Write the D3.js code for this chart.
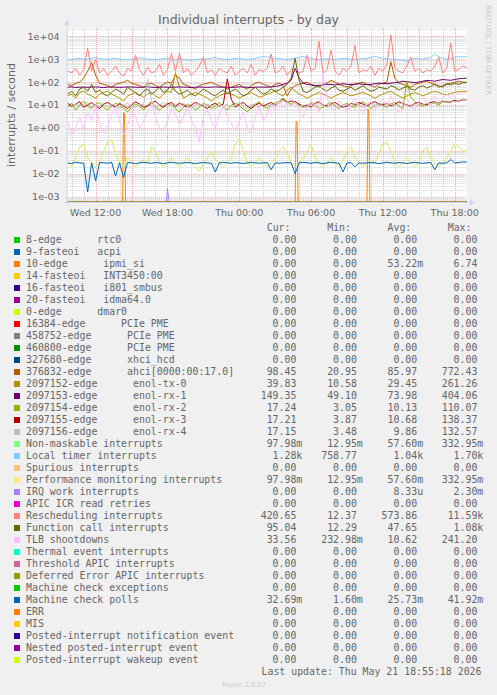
<!DOCTYPE html>
<html><head><meta charset="utf-8">
<script src="https://cdn.jsdelivr.net/npm/d3@7/dist/d3.min.js"></script>
<style>
html,body{margin:0;padding:0;background:#F0F0F0;}
svg{display:block;}
text{font-family:"DejaVu Sans",sans-serif;fill:#666666;}
.mono{font-family:"DejaVu Sans Mono",monospace;font-size:9.9px;white-space:pre;}
</style></head><body>
<svg id="c" width="497" height="695"></svg>
<script>
// ---------------- DATA ----------------
const title = "Individual interrupts - by day";
const yLabel = "interrupts / second";
const yTickValues = [1e-3, 1e-2, 1e-1, 1e0, 1e1, 1e2, 1e3, 1e4];
const yTickLabels = ["1e-03","1e-02","1e-01","1e+00","1e+01","1e+02","1e+03","1e+04"];
const xTickTimes = ["2026-05-20T12:00","2026-05-20T18:00","2026-05-21T00:00","2026-05-21T06:00","2026-05-21T12:00","2026-05-21T18:00"];
const xTickLabels = ["Wed 12:00","Wed 18:00","Thu 00:00","Thu 06:00","Thu 12:00","Thu 18:00"];
const viewStart = "2026-05-20T09:35", viewEnd = "2026-05-21T19:00";
const denseStart = "2026-05-20T09:40"; // dense series: one sample every 20 minutes
const denseStepMinutes = 20;

const legendLabels = [
 "8-edge      rtc0","9-fasteoi   acpi","10-edge      ipmi_si","14-fasteoi   INT3450:00",
 "16-fasteoi   i801_smbus","20-fasteoi   idma64.0","0-edge      dmar0","16384-edge      PCIe PME",
 "458752-edge      PCIe PME","460800-edge      PCIe PME","327680-edge      xhci_hcd",
 "376832-edge      ahci[0000:00:17.0]","2097152-edge      enol-tx-0","2097153-edge      enol-rx-1",
 "2097154-edge      enol-rx-2","2097155-edge      enol-rx-3","2097156-edge      enol-rx-4",
 "Non-maskable interrupts","Local timer interrupts","Spurious interrupts",
 "Performance monitoring interrupts","IRQ work interrupts","APIC ICR read retries",
 "Rescheduling interrupts","Function call interrupts","TLB shootdowns","Thermal event interrupts",
 "Threshold APIC interrupts","Deferred Error APIC interrupts","Machine check exceptions",
 "Machine check polls","ERR","MIS","Posted-interrupt notification event",
 "Nested posted-interrupt event","Posted-interrupt wakeup event"];
const legendColors = ["#00CC00","#0066B3","#FF8000","#FFCC00","#330099","#990099","#CCFF00","#FF0000",
 "#808080","#008F00","#00487D","#B35A00","#B38F00","#6B006B","#8FB300","#B30000","#BEBEBE",
 "#80FF80","#80C9FF","#FFC080","#FFE680","#AA80FF","#EE00CC","#FF8080","#666600","#FFBFFF",
 "#00FFCC","#CC6699","#999900","#00CC00","#0066B3","#FF8000","#FFCC00","#330099","#990099","#CCFF00"];
const statCur = ["0.00","0.00","0.00","0.00","0.00","0.00","0.00","0.00","0.00","0.00","0.00","98.45","39.83","149.35","17.24","17.21","17.15","97.98m","1.28k","0.00","97.98m","0.00","0.00","420.65","95.04","33.56","0.00","0.00","0.00","0.00","32.69m","0.00","0.00","0.00","0.00","0.00"];
const statMin = ["0.00","0.00","0.00","0.00","0.00","0.00","0.00","0.00","0.00","0.00","0.00","20.95","10.58","49.10","3.05","3.87","3.48","12.95m","758.77","0.00","12.95m","0.00","0.00","12.37","12.29","232.98m","0.00","0.00","0.00","0.00","1.60m","0.00","0.00","0.00","0.00","0.00"];
const statAvg = ["0.00","0.00","53.22m","0.00","0.00","0.00","0.00","0.00","0.00","0.00","0.00","85.97","29.45","73.98","10.13","10.68","9.86","57.60m","1.04k","0.00","57.60m","8.33u","0.00","573.86","47.65","10.62","0.00","0.00","0.00","0.00","25.73m","0.00","0.00","0.00","0.00","0.00"];
const statMax = ["0.00","0.00","6.74","0.00","0.00","0.00","0.00","0.00","0.00","0.00","0.00","772.43","261.26","404.06","110.07","138.37","132.57","332.95m","1.70k","0.00","332.95m","2.30m","0.00","11.59k","1.08k","241.20","0.00","0.00","0.00","0.00","41.92m","0.00","0.00","0.00","0.00","0.00"];
const lastUpdate = "Last update: Thu May 21 18:55:18 2026";
const footer = "Munin 2.0.57";
const watermark = "RRDTOOL / TOBI OETIKER";

// dense series, 101 samples each (20 min apart)
const locValues = [1000,950,1050,1100,980,1020,1100,1200,1050,1000, 980,1050,1100,1000,950,980,1000,1050,1150,1100,
 1000,980,950,1000,1050,1100,1000,980,1020,1000, 950,900,980,1000,1050,1000,1100,1200,1050,1000,
 980,1000,1050,1100,1000,950,1000,1100,1200,1300, 1250,1150,1100,1050,1000,980,1000,1100,1200,1300,
 1200,1100,1000,980,1000,1050,1000,950,1000,1100, 1050,1000,980,1000,1050,1100,1200,1300,1200,1100,
 1050,1000,980,950,900,780,1000,1100,1050,1000, 1100,1200,1700,1300,1100,1000,1050,1200,1300,1250, 1280];
const resValues = [300,250,400,200,350,3000,300,1000,250,400, 200,300,500,250,180,400,300,1500,350,200,
 450,250,300,600,200,350,1800,300,1800,250, 400,200,300,500,1200,250,350,200,400,300,
 250,500,200,300,400,250,600,200,350,300, 400,1700,250,300,500,200,350,400,250,300,
 1500,300,400,6000,250,350,2500,300,200,400, 300,500,4000,250,350,300,500,200,400,300,
 600,11590,400,300,250,500,1200,300,400,250, 350,300,500,1200,250,400,5000,300,350,500, 420];
const ahciValues = [80,70,90,100,150,300,700,200,90,80, 70,60,80,90,100,120,90,80,70,60,
 80,90,70,60,80,100,90,200,150,80, 70,60,50,70,80,90,100,80,70,60,
 50,60,70,80,60,50,70,90,100,80, 70,60,80,90,70,25,50,70,80,90,
 100,80,70,60,80,90,120,100,80,70, 60,70,80,90,100,80,70,60,80,90,
 100,772,150,90,80,70,60,80,90,100, 110,90,80,70,60,80,90,100,110,100, 98];
const tx0Values = [25,30,20,35,40,30,25,20,30,35, 40,30,25,20,15,25,30,35,28,22,
 30,35,25,20,30,40,35,261,60,20, 25,30,35,30,25,20,15,20,25,30,
 35,30,25,20,25,30,35,28,22,25, 30,35,40,30,25,45,60,40,30,25,
 20,25,30,35,30,25,20,25,30,35, 30,25,28,32,35,30,25,20,25,30,
 35,40,30,25,20,25,30,35,30,25, 30,35,40,35,30,28,32,35,38,40, 40];
const rx1Values = [60,62,58,60,61,59,60,62,60,58, 60,61,60,59,60,62,61,60,59,60,
 62,60,58,60,61,60,59,60,62,60, 60,58,60,61,60,59,60,62,60,61,
 60,59,60,62,61,60,58,60,61,60, 60,62,65,70,80,90,120,404,150,90,
 80,75,70,72,75,80,78,75,80,85, 80,78,82,85,80,78,80,85,90,88,
 85,90,95,100,110,105,100,95,100,110, 120,115,110,120,130,125,120,130,140,145, 149];
const rx2Values = [8,12,6,10,15,9,7,11,13,8, 6,9,12,10,7,5,8,11,9,6,
 10,14,8,6,9,12,10,7,5,8, 11,9,6,8,12,10,7,9,13,8,
 6,10,12,9,7,5,8,11,14,9, 7,10,12,15,20,14,11,15,10,8,
 9,12,10,7,8,11,13,9,7,10, 12,9,8,11,14,10,7,9,12,10,
 8,11,13,9,7,110,22,14,10,9, 11,13,12,10,14,15,13,16,15,17, 17];
const rx3Values = [12,9,11,14,8,10,13,9,7,11, 13,10,8,12,9,7,10,14,11,8,
 9,12,15,10,8,11,13,9,12,10, 8,10,13,11,9,7,10,12,9,11,
 138,18,8,11,13,9,7,10,12,9, 11,13,10,12,18,13,15,14,11,9,
 10,8,12,14,10,9,11,13,10,8, 9,12,10,13,11,9,12,14,11,10,
 12,9,11,14,12,10,9,12,13,11, 10,13,14,12,15,13,14,16,15,17, 17];
const rx4Values = [10,8,12,9,11,13,8,10,9,12, 8,11,9,7,10,12,9,8,11,10,
 132,16,7,10,13,9,11,8,10,12, 9,7,10,12,8,11,9,7,10,9,
 11,8,10,13,9,7,11,10,8,12, 9,11,10,13,16,12,10,12,9,10,
 8,11,9,12,10,8,13,11,9,10, 11,9,12,10,8,11,13,10,9,12,
 10,12,9,11,13,10,8,11,12,10, 12,11,13,12,14,13,15,14,16,17, 17];
const calValues = [30,40,25,50,60,40,80,35,45,30, 25,35,50,40,30,60,45,35,25,40,
 50,30,40,60,35,45,80,40,30,35, 45,30,25,35,50,40,30,25,35,45,
 30,40,50,35,25,30,45,60,40,30, 35,50,40,45,60,80,150,1080,120,40,
 35,45,60,70,50,40,55,65,45,40, 50,60,45,55,70,50,40,45,60,55,
 50,70,60,45,55,65,50,45,60,70, 55,65,80,60,70,85,75,90,80,95, 95];
const tlbValues = [2,0.5,1,3,0.8,5,2,10,1.5,0.6, 1,4,8,2,0.5,1.2,6,3,1,2,
 5,12,3,1,0.8,2,7,4,1.5,3, 8,2,1,0.23,3,6,2,1,4,10,
 3,1.5,0.8,2,5,1,0.6,3,8,2, 4,10,6,15,8,12,20,12,6,3,
 8,15,10,5,241,20,8,6,15,10, 5,12,20,8,4,10,15,6,12,18,
 10,25,8,5,12,20,10,6,15,22, 12,18,25,15,20,30,22,28,30,35, 33.56];
const pmiValues = [0.03,0.02,0.05,0.15,0.2,0.05,0.03,0.02,0.03,0.1, 0.25,0.3,0.08,0.03,0.02,0.05,0.03,0.02,0.03,0.04,
 0.03,0.15,0.1,0.03,0.02,0.03,0.05,0.03,0.02,0.03, 0.05,0.03,0.02,0.013,0.03,0.05,0.1,0.04,0.03,0.02,
 0.03,0.05,0.2,0.333,0.1,0.03,0.02,0.03,0.05,0.03, 0.02,0.03,0.05,0.1,0.15,0.08,0.03,0.02,0.03,0.05,
 0.1,0.2,0.05,0.03,0.02,0.03,0.05,0.03,0.02,0.04, 0.1,0.15,0.05,0.03,0.02,0.03,0.04,0.03,0.08,0.2,
 0.25,0.1,0.03,0.02,0.03,0.05,0.03,0.02,0.03,0.1, 0.15,0.05,0.03,0.02,0.03,0.05,0.1,0.2,0.15,0.1, 0.098];
const mcpValues = [0.03,0.028,0.032,0.03,0.029,0.0016,0.03,0.005,0.031,0.03, 0.029,0.032,0.008,0.03,0.007,0.031,0.03,0.028,0.03,0.032,
 0.03,0.029,0.031,0.03,0.028,0.03,0.032,0.03,0.029,0.03, 0.031,0.03,0.028,0.03,0.031,0.03,0.029,0.012,0.03,0.032,
 0.03,0.029,0.031,0.03,0.028,0.03,0.032,0.03,0.029,0.03, 0.031,0.015,0.03,0.029,0.03,0.031,0.03,0.01,0.03,0.032,
 0.03,0.029,0.031,0.03,0.028,0.03,0.032,0.03,0.029,0.012, 0.03,0.031,0.02,0.03,0.029,0.03,0.031,0.03,0.028,0.03,
 0.032,0.03,0.029,0.031,0.03,0.028,0.03,0.032,0.03,0.029, 0.03,0.031,0.015,0.03,0.029,0.03,0.042,0.03,0.031,0.033, 0.0327];
// sparse series (explicit sample times)
const ipmiTimes = ["2026-05-20T09:40","2026-05-20T14:15","2026-05-20T14:20","2026-05-20T14:25","2026-05-20T14:30",
 "2026-05-21T04:40","2026-05-21T04:45","2026-05-21T04:50","2026-05-21T04:55",
 "2026-05-21T10:40","2026-05-21T10:45","2026-05-21T10:50","2026-05-21T10:55","2026-05-21T19:00"];
const ipmiValues = [0,0,4.8,4.2,0, 0,2.0,1.6,0, 0,6.74,3.5,0,0];
const iwiTimes = ["2026-05-20T09:40","2026-05-20T17:55","2026-05-20T18:00","2026-05-20T18:05","2026-05-20T18:10","2026-05-21T19:00"];
const iwiValues = [0,0,0.0023,0.001,0,0];
const zeroTimes = ["2026-05-20T09:40","2026-05-21T19:00"];
const zeroValues = [0,0];

// ---------------- CHART ----------------
const P = d3.utcParse("%Y-%m-%dT%H:%M");
const svg = d3.select("#c");
const L = 66.7, R = 466.7, TOP = 28, BOT = 202;
const x = d3.scaleUtc().domain([P(viewStart), P(viewEnd)]).range([L, R]);
const y = d3.scaleLog().domain([Math.pow(10,-3.231), Math.pow(10,4.362)]).range([BOT, TOP]);
const yv = v => v > 0 ? y(v) : BOT;

svg.append("rect").attr("x",L).attr("y",TOP).attr("width",R-L).attr("height",BOT-TOP).attr("fill","#FFFFFF");

// grid
const g = svg.append("g");
const [d0,d1] = y.domain();
const minorC = "#D2D2D2", majorC = "#F5A3A3";
for (let k=-4;k<=4;k++) for (let m=2;m<=9;m++){
  const v = m*Math.pow(10,k); if (v<d0||v>d1) continue;
  g.append("line").attr("x1",L).attr("x2",R).attr("y1",Math.round(y(v))+0.5).attr("y2",Math.round(y(v))+0.5)
   .attr("stroke",minorC).attr("stroke-width",1).attr("stroke-dasharray","1,1");
}
const hours = d3.utcHour.range(d3.utcHour.ceil(x.domain()[0]), x.domain()[1]);
hours.forEach(h=>{ if (h.getUTCHours()%3!==0) g.append("line").attr("x1",Math.round(x(h))+0.5).attr("x2",Math.round(x(h))+0.5)
  .attr("y1",TOP).attr("y2",BOT).attr("stroke",minorC).attr("stroke-dasharray","1,1"); });
yTickValues.forEach(v=>g.append("line").attr("x1",L).attr("x2",R).attr("y1",Math.round(y(v))+0.5).attr("y2",Math.round(y(v))+0.5)
  .attr("stroke",majorC).attr("stroke-dasharray","1,1"));
hours.forEach(h=>{ if (h.getUTCHours()%3===0) g.append("line").attr("x1",Math.round(x(h))+0.5).attr("x2",Math.round(x(h))+0.5)
  .attr("y1",TOP).attr("y2",BOT).attr("stroke",majorC).attr("stroke-dasharray","1,1"); });

// series
const denseT0 = P(denseStart).getTime();
const dense = vals => vals.map((v,i)=>({t:new Date(denseT0 + i*denseStepMinutes*60000), v}));
const sparse = (ts,vals) => ts.map((t,i)=>({t:P(t), v:vals[i]}));
const Z = sparse(zeroTimes, zeroValues);
const seriesData = [Z,Z,sparse(ipmiTimes,ipmiValues),Z,Z,Z,Z,Z,Z,Z,Z,
  dense(ahciValues),dense(tx0Values),dense(rx1Values),dense(rx2Values),dense(rx3Values),dense(rx4Values),
  dense(pmiValues),dense(locValues),Z,dense(pmiValues),sparse(iwiTimes,iwiValues),Z,
  dense(resValues),dense(calValues),dense(tlbValues),Z,Z,Z,Z,dense(mcpValues),Z,Z,Z,Z,Z];
svg.append("clipPath").attr("id","pc").append("rect").attr("x",L).attr("y",TOP-2).attr("width",R-L+1).attr("height",BOT-TOP+3);
const line = d3.line().x(d=>x(d.t)).y(d=>yv(d.v));
const sg = svg.append("g").attr("clip-path","url(#pc)");
seriesData.forEach((s,i)=>{
  sg.append("path").attr("d",line(s)).attr("fill","none").attr("stroke",legendColors[i]).attr("stroke-width",1);
});

// axes
const ax = "#CFD6F8";
svg.append("line").attr("x1",L-4).attr("x2",R+4).attr("y1",BOT+0.5).attr("y2",BOT+0.5).attr("stroke",ax);
svg.append("line").attr("x1",L+0.5).attr("x2",L+0.5).attr("y1",BOT+4).attr("y2",TOP-5).attr("stroke",ax);
svg.append("path").attr("d",`M${R+3},${BOT-2.5}L${R+8},${BOT+0.5}L${R+3},${BOT+3.5}Z`).attr("fill",ax);
svg.append("path").attr("d",`M${L-2.5},${TOP-3}L${L+0.5},${TOP-8}L${L+3.5},${TOP-3}Z`).attr("fill",ax);

// tick labels
yTickValues.forEach((v,i)=>svg.append("text").attr("x",59.5).attr("y",y(v)+3.4).attr("text-anchor","end")
  .attr("font-size","9.5px").text(yTickLabels[i]));
xTickTimes.forEach((t,i)=>svg.append("text").attr("x",x(P(t))).attr("y",215.5).attr("text-anchor","middle")
  .attr("font-size","9.5px").text(xTickLabels[i]));

// title & labels
svg.append("text").attr("x",248.5).attr("y",24).attr("text-anchor","middle").attr("font-size","12.5px").text(title);
svg.append("text").attr("transform","translate(15,115) rotate(-90)").attr("text-anchor","middle").attr("font-size","11px").text(yLabel);
svg.append("text").attr("transform","translate(486,5) rotate(90)").attr("font-size","7px").style("fill","#C8C8C8").text(watermark);

// legend
const mono = (xx,yy,s)=>svg.append("text").attr("class","mono").attr("xml:space","preserve").attr("x",xx).attr("y",yy).text(s);
const cols = [260.7, 321.2, 381.5, 441.7];
["Cur:","Min:","Avg:","Max:"].forEach((h,i)=>mono(cols[i]+6,231.3,h));
const fmt = s => { const m = s.match(/^([\d.]+)([a-zA-Z]?)$/); return m[1].padStart(6," ") + (m[2]||" "); };
legendLabels.forEach((lab,i)=>{
  const cy = 240 + 12*i;
  svg.append("rect").attr("x",14).attr("y",cy-3).attr("width",6).attr("height",6).attr("fill",legendColors[i]);
  mono(26, cy+3.3, lab);
  [statCur,statMin,statAvg,statMax].forEach((arr,j)=>mono(cols[j], cy+3.3, fmt(arr[i])));
});
mono(261.5, 240+12*36+3.3, lastUpdate);
svg.append("text").attr("x",222.5).attr("y",687).attr("font-size","6.6px").style("fill","#C8C8C8").text(footer);
</script>
</body></html>
